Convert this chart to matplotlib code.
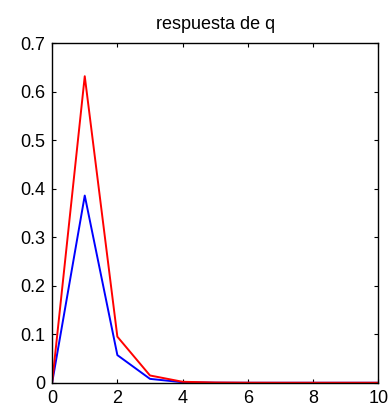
import matplotlib
matplotlib.use('Agg')
import matplotlib.pyplot as plt

# data
k = [0, 1, 2, 3, 4, 5, 6, 7, 8, 9, 10]
q_red = [0.0, 0.632, 0.095, 0.015, 0.002, 0.0005, 0.0001, 0.0, 0.0, 0.0, 0.0]
q_blue = [0.0, 0.386, 0.057, 0.008, 0.001, 0.0002, 0.0, 0.0, 0.0, 0.0, 0.0]
xticks = [0, 2, 4, 6, 8, 10]
yticks = [0, 0.1, 0.2, 0.3, 0.4, 0.5, 0.6, 0.7]

plt.rcParams['font.family'] = ['Liberation Sans', 'DejaVu Sans']

fig = plt.figure(figsize=(3.92, 4.12), dpi=100)
ax = fig.add_axes([0.133, 0.071, 0.832, 0.824])

ax.plot(k, q_blue, color='#0000ff', lw=1.4)
ax.plot(k, q_red, color='#ff0000', lw=1.4)

ax.set_xlim(0, 10)
ax.set_ylim(0, 0.7)
ax.set_xticks(xticks)
ax.set_yticks(yticks)
ax.set_xticklabels([str(t) for t in xticks])
ax.set_yticklabels(['0'] + [f'{t:.1f}' for t in yticks[1:]])
ax.tick_params(direction='in', top=True, right=True, labelsize=13, length=3, width=0.8)
ax.tick_params(axis='x', pad=5)
ax.tick_params(axis='y', pad=5)
for s in ax.spines.values():
    s.set_linewidth(1.0)
ax.set_title('respuesta de q', fontsize=13, pad=10)

fig.savefig('out.png', dpi=100)
